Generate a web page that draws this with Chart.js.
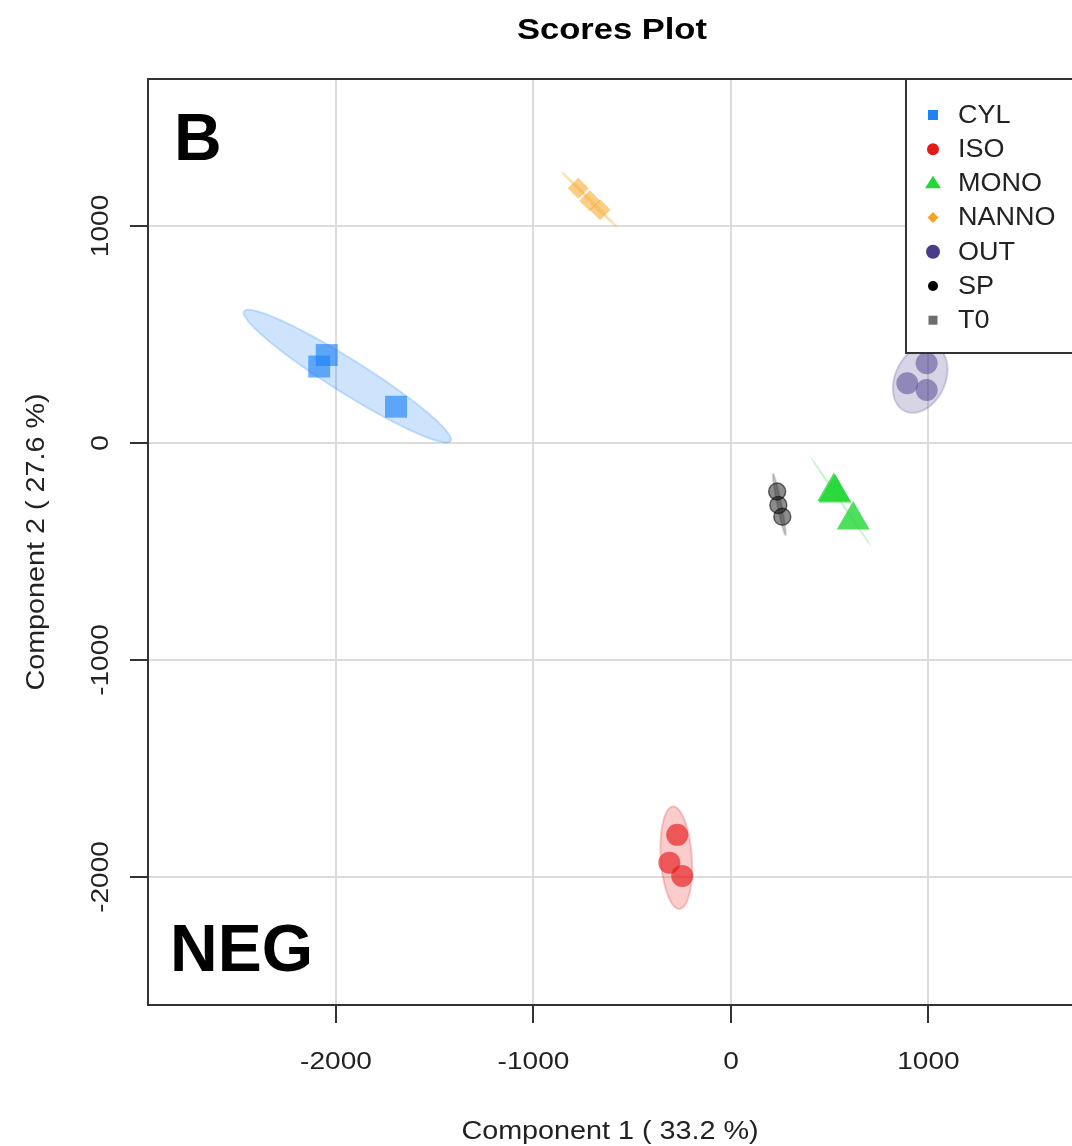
<!DOCTYPE html>
<html>
<head>
<meta charset="utf-8">
<title>Scores Plot</title>
<script src="https://cdn.jsdelivr.net/npm/chart.js@4.4.1/dist/chart.umd.min.js"></script>
<style>
  html, body { margin: 0; padding: 0; background: #fff; overflow: hidden; }
</style>
</head>
<body>
<!-- a bit wider than the window so the right edge of the box falls outside, as in the original -->
<canvas id="scores" width="1091" height="1146"></canvas>
<script>
// groups in legend order
const groups = ['CYL', 'ISO', 'MONO', 'NANNO', 'OUT', 'SP', 'T0'];

// scores (component 1 = x, component 2 = y)
const cylX = [-2047, -2085, -1696];
const cylY = [405, 352, 167];
const isoX = [-272, -312, -247];
const isoY = [-1806, -1934, -1995];
const monoX = [521, 527, 619];
const monoY = [-224, -231, -355];
const nannoX = [-773, -715, -663];
const nannoY = [1174, 1116, 1074];
const outX = [991, 893, 991];
const outY = [367, 275, 244];
const spX = [234, 240, 260];
const spY = [-224, -286, -340];
const t0X = [];
const t0Y = [];

const xTicks = [-2000, -1000, 0, 1000];
const yTicks = [-2000, -1000, 0, 1000];
const xRange = [-2952, 1727];
const yRange = [-2590, 1677];

const xTitle = 'Component 1 ( 33.2 %)';
const yTitle = 'Component 2 ( 27.6 %)';
const plotTitle = 'Scores Plot';

const scoreX = [cylX, isoX, monoX, nannoX, outX, spX, t0X];
const scoreY = [cylY, isoY, monoY, nannoY, outY, spY, t0Y];

// look of each group
const looks = {
    CYL:   { rgb: '30,130,245',  shape: 'rect',     r: 15.5, alpha: 0.65, key: 5 },
    ISO:   { rgb: '230,25,25',   shape: 'circle',   r: 11,   alpha: 0.65, key: 6 },
    MONO:  { rgb: '35,215,55',   shape: 'triangle', r: 19,   alpha: 0.8,  key: 8 },
    NANNO: { rgb: '245,165,35',  shape: 'rectRot',  r: 10.5, alpha: 0.55, key: 5.5 },
    OUT:   { rgb: '72,61,139',   shape: 'circle',   r: 11,   alpha: 0.5,  key: 7 },
    SP:    { rgb: '0,0,0',       shape: 'circle',   r: 8.5,  alpha: 0.45, key: 5 },
    T0:    { rgb: '110,110,110', shape: 'rect',     r: 15,   alpha: 0.5,  key: 4.5 }
};

const FONT = '"Liberation Sans", Arial, sans-serif';
const INK = '#333';

function mean(a) {
    return a.reduce((s, v) => s + v, 0) / a.length;
}

// 95% confidence ellipse of a group, in data units
function ellipseOf(xs, ys) {
    const n = xs.length;
    if (n < 2) return null;
    const mx = mean(xs), my = mean(ys);
    let sxx = 0, syy = 0, sxy = 0;
    for (let i = 0; i < n; i++) {
        const dx = xs[i] - mx, dy = ys[i] - my;
        sxx += dx * dx; syy += dy * dy; sxy += dx * dy;
    }
    sxx /= n - 1; syy /= n - 1; sxy /= n - 1;
    const half = (sxx + syy) / 2;
    const disc = Math.sqrt(Math.max(half * half - (sxx * syy - sxy * sxy), 0));
    const l1 = half + disc, l2 = Math.max(half - disc, 0);
    let phi;
    if (Math.abs(sxy) > 1e-9) phi = Math.atan2(l1 - sxx, sxy);
    else phi = sxx >= syy ? 0 : Math.PI / 2;
    const k = Math.sqrt(5.991);
    const a = k * Math.sqrt(l1), b = k * Math.sqrt(l2);
    const pts = [];
    for (let i = 0; i <= 120; i++) {
        const t = i / 120 * 2 * Math.PI;
        pts.push([
            mx + a * Math.cos(t) * Math.cos(phi) - b * Math.sin(t) * Math.sin(phi),
            my + a * Math.cos(t) * Math.sin(phi) + b * Math.sin(t) * Math.cos(phi)
        ]);
    }
    return pts;
}

function text(ctx, s, x, y, font, sx, align, rot) {
    ctx.save();
    ctx.translate(x, y);
    if (rot) ctx.rotate(rot);
    ctx.scale(sx, 1);
    ctx.font = font;
    ctx.textAlign = align;
    ctx.textBaseline = 'middle';
    ctx.fillText(s, 0, 0);
    ctx.restore();
}

function keyMark(ctx, shape, x, y, s, color) {
    ctx.fillStyle = color;
    ctx.beginPath();
    if (shape === 'rect') {
        ctx.rect(x - s, y - s, 2 * s, 2 * s);
    } else if (shape === 'circle') {
        ctx.arc(x, y, s, 0, 2 * Math.PI);
    } else if (shape === 'triangle') {
        ctx.moveTo(x, y - s * 0.95);
        ctx.lineTo(x + s, y + s * 0.6);
        ctx.lineTo(x - s, y + s * 0.6);
        ctx.closePath();
    } else {
        ctx.moveTo(x, y - s);
        ctx.lineTo(x + s, y);
        ctx.lineTo(x, y + s);
        ctx.lineTo(x - s, y);
        ctx.closePath();
    }
    ctx.fill();
}

const ellipses = {
    id: 'ellipses',
    beforeDatasetsDraw(chart) {
        const { ctx, chartArea, scales } = chart;
        ctx.save();
        ctx.beginPath();
        ctx.rect(chartArea.left, chartArea.top, chartArea.right - chartArea.left, chartArea.bottom - chartArea.top);
        ctx.clip();
        groups.forEach((g, i) => {
            const pts = ellipseOf(scoreX[i], scoreY[i]);
            if (!pts) return;
            const look = looks[g];
            ctx.beginPath();
            pts.forEach(([x, y], j) => {
                const px = scales.x.getPixelForValue(x), py = scales.y.getPixelForValue(y);
                if (j === 0) ctx.moveTo(px, py); else ctx.lineTo(px, py);
            });
            ctx.closePath();
            ctx.fillStyle = `rgba(${look.rgb},0.22)`;
            ctx.strokeStyle = `rgba(${look.rgb},${g === 'SP' ? 0.12 : 0.22})`;
            ctx.lineWidth = 2;
            ctx.fill();
            ctx.stroke();
        });
        ctx.restore();
    }
};

const decorations = {
    id: 'decorations',
    afterDraw(chart) {
        const { ctx, chartArea, scales } = chart;
        const midX = (chartArea.left + chartArea.right) / 2;
        const midY = (chartArea.top + chartArea.bottom) / 2;

        // top of the box
        ctx.save();
        ctx.strokeStyle = INK;
        ctx.lineWidth = 2;
        ctx.beginPath();
        ctx.moveTo(chartArea.left - 1, chartArea.top);
        ctx.lineTo(chartArea.right + 2, chartArea.top);
        ctx.stroke();
        ctx.restore();

        ctx.fillStyle = '#222';
        xTicks.forEach(v => text(ctx, String(v), scales.x.getPixelForValue(v), chartArea.bottom + 58, '23px ' + FONT, 1.22, 'center'));
        yTicks.forEach(v => text(ctx, String(v), chartArea.left - 46, scales.y.getPixelForValue(v), '23px ' + FONT, 1.22, 'center', -Math.PI / 2));

        text(ctx, xTitle, midX, chartArea.bottom + 127, '25px ' + FONT, 1.15, 'center');
        text(ctx, yTitle, chartArea.left - 111, midY, '25px ' + FONT, 1.15, 'center', -Math.PI / 2);

        ctx.fillStyle = '#000';
        text(ctx, plotTitle, midX + 2, 31, 'bold 30px ' + FONT, 1.15, 'center');
        text(ctx, 'B', chartArea.left + 26, chartArea.top + 63, 'bold 66px ' + FONT, 1, 'left');
        text(ctx, 'NEG', chartArea.left + 22, chartArea.bottom - 52, 'bold 66px ' + FONT, 1, 'left');

        // legend box in the top right corner
        const bx = 906, by = chartArea.top, bh = 274;
        ctx.save();
        ctx.fillStyle = '#fff';
        ctx.fillRect(bx, by, chartArea.right - bx + 4, bh);
        ctx.strokeStyle = INK;
        ctx.lineWidth = 2;
        ctx.strokeRect(bx, by, chartArea.right - bx + 4, bh);
        groups.forEach((g, i) => {
            const look = looks[g];
            const y = by + 36 + i * 34.2;
            keyMark(ctx, look.shape, bx + 27, y, look.key, `rgb(${look.rgb})`);
            ctx.fillStyle = '#222';
            text(ctx, g, bx + 52, y + 1, '25px ' + FONT, 1.08, 'left');
        });
        ctx.restore();
    }
};

new Chart(document.getElementById('scores'), {
    type: 'scatter',
    data: {
        datasets: groups.map((g, i) => {
            const look = looks[g];
            return {
                label: g,
                data: scoreX[i].map((x, j) => ({ x: x, y: scoreY[i][j] })),
                pointStyle: look.shape,
                pointRadius: look.r,
                pointHoverRadius: look.r,
                backgroundColor: `rgba(${look.rgb},${look.alpha})`,
                borderColor: g === 'SP' ? 'rgba(0,0,0,0.55)' : 'rgba(0,0,0,0)',
                borderWidth: g === 'SP' ? 1.5 : 0
            };
        })
    },
    options: {
        responsive: false,
        animation: false,
        devicePixelRatio: 1,
        layout: { padding: { left: 130, top: 79, right: 0, bottom: 123 } },
        scales: {
            x: {
                type: 'linear',
                min: xRange[0],
                max: xRange[1],
                afterBuildTicks: s => { s.ticks = xTicks.map(v => ({ value: v })); },
                ticks: { display: false },
                grid: { color: '#dcdcdc', lineWidth: 2, drawTicks: true, tickLength: 18, tickColor: INK, tickWidth: 2 },
                border: { display: true, color: INK, width: 2 }
            },
            y: {
                type: 'linear',
                min: yRange[0],
                max: yRange[1],
                afterBuildTicks: s => { s.ticks = yTicks.map(v => ({ value: v })); },
                ticks: { display: false },
                grid: { color: '#dcdcdc', lineWidth: 2, drawTicks: true, tickLength: 18, tickColor: INK, tickWidth: 2 },
                border: { display: true, color: INK, width: 2 }
            }
        },
        plugins: {
            legend: { display: false },
            tooltip: { enabled: false }
        }
    },
    plugins: [ellipses, decorations]
});
</script>
</body>
</html>
